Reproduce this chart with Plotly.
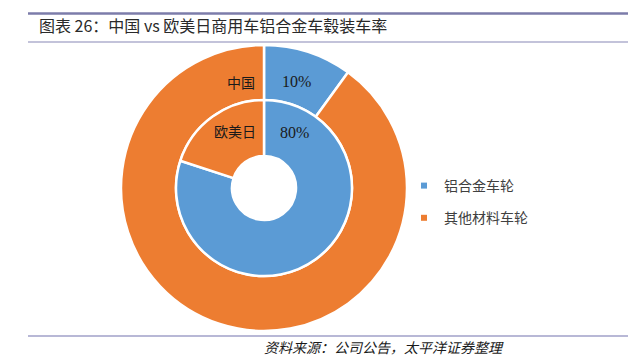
import plotly.graph_objects as go

categories = ["铝合金车轮", "其他材料车轮"]
china_values = [10, 90]
west_values = [80, 20]
ring_labels = ["中国", "欧美日"]
colors = ["#5B9BD5", "#ED7D31"]

OFF = 8  # page body margin
W, H = 636 - OFF, 362 - OFF
cx, cy = 264 - OFF, 188 - OFF
r_out, r_mid, r_in = 143, 88, 32

def px(x):
    return (x - OFF) / W

def py(y):
    return 1 - (y - OFF) / H

def dom(r):
    return dict(x=[(cx - r) / W, (cx + r) / W],
                y=[(H - cy - r) / H, (H - cy + r) / H])

fig = go.Figure()
fig.add_trace(go.Pie(
    labels=categories, values=china_values, domain=dom(r_out), hole=r_mid / r_out,
    sort=False, direction="clockwise", rotation=0,
    marker=dict(colors=colors, line=dict(color="white", width=2.5)),
    textinfo="none", hoverinfo="label+percent", showlegend=False,
))
fig.add_trace(go.Pie(
    labels=categories, values=west_values, domain=dom(r_mid), hole=r_in / r_mid,
    sort=False, direction="clockwise", rotation=0,
    marker=dict(colors=colors, line=dict(color="white", width=2.5)),
    textinfo="none", hoverinfo="label+percent", showlegend=False,
))
for i, (name, c) in enumerate(zip(categories, colors)):
    fig.add_trace(go.Scatter(
        x=[None], y=[None], mode="markers", name=name, legendgroup=name,
        marker=dict(symbol="square", size=6, color=c),
    ))

lab_font = dict(family="Noto Sans CJK SC", size=14, color="#1a1a1a")
num_font = dict(family="Liberation Serif", size=16, color="#1a1a1a")
annos = [
    dict(x=px(241), y=py(82), text=ring_labels[0], font=lab_font),
    dict(x=px(296), y=py(82), text=f"{china_values[0]}%", font=num_font),
    dict(x=px(235), y=py(131), text=ring_labels[1], font=lab_font),
    dict(x=px(294), y=py(132), text=f"{west_values[0]}%", font=num_font),
    dict(x=px(37), y=py(25), xanchor="left", text="图表 26：中国 vs 欧美日商用车铝合金车毂装车率",
         font=dict(family="Noto Sans CJK SC", size=16, color="#2a2a2a")),
    dict(x=px(262), y=py(347), xanchor="left", text="<i>资料来源：公司公告，太平洋证券整理</i>",
         font=dict(family="Noto Sans CJK SC", size=14, color="#1a1a1a")),
]
for a in annos:
    a.setdefault("xanchor", "center")
    a.update(xref="paper", yref="paper", yanchor="middle", showarrow=False)

shapes = [
    dict(type="line", xref="paper", yref="paper", x0=px(28), x1=px(631), y0=py(13.5), y1=py(13.5),
         line=dict(color="#7C7CAA", width=2.5)),
    dict(type="line", xref="paper", yref="paper", x0=px(28), x1=px(631), y0=py(42), y1=py(42),
         line=dict(color="#C3C3DA", width=2)),
    dict(type="line", xref="paper", yref="paper", x0=px(28), x1=px(631), y0=py(336), y1=py(336),
         line=dict(color="#A0A0C8", width=1.5)),
]

fig.update_layout(
    width=W, height=H, margin=dict(l=0, r=0, t=0, b=0),
    paper_bgcolor="white", plot_bgcolor="white",
    xaxis=dict(visible=False), yaxis=dict(visible=False),
    annotations=annos, shapes=shapes,
    legend=dict(x=px(404), y=py(170), xanchor="left", yanchor="top",
                font=dict(family="Noto Sans CJK SC", size=14, color="#404040"),
                tracegroupgap=11, itemwidth=30, bgcolor="rgba(0,0,0,0)"),
    showlegend=True,
)
fig.write_html("out.html")
